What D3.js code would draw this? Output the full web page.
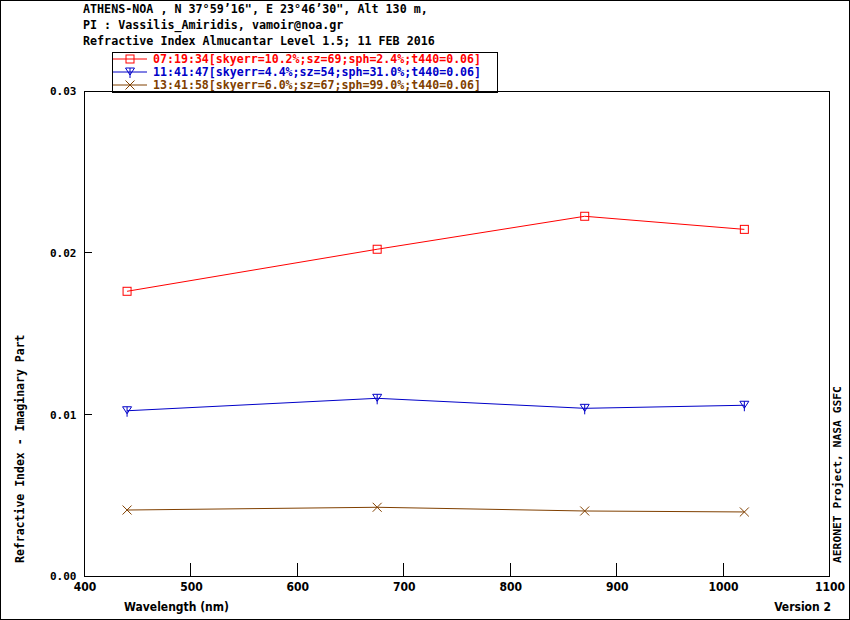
<!DOCTYPE html>
<html><head><meta charset="utf-8">
<script src="https://cdn.jsdelivr.net/npm/d3@7"></script>
<style>body{margin:0;background:#fff}svg{display:block}</style>
</head><body>
<script>
const wavelengths = [440, 675, 870, 1020];
const seriesNames = [
  "07:19:34[skyerr=10.2%;sz=69;sph=2.4%;t440=0.06]",
  "11:41:47[skyerr=4.4%;sz=54;sph=31.0%;t440=0.06]",
  "13:41:58[skyerr=6.0%;sz=67;sph=99.0%;t440=0.06]"
];
const series1 = [0.01763, 0.02023, 0.02227, 0.02146];
const series2 = [0.01024, 0.01101, 0.01039, 0.01058];
const series3 = [0.00410, 0.00427, 0.00404, 0.00398];
const seriesColors = ["#ff0000", "#0000c8", "#804000"];
const seriesSymbols = ["square", "triangle", "cross"];
const xTicks = [400, 500, 600, 700, 800, 900, 1000, 1100];
const yTicks = [0, 0.01, 0.02, 0.03];
const headerLines = [
  "ATHENS-NOA , N 37\u00b059\u201916\", E 23\u00b046\u201930\", Alt 130 m,",
  "PI : Vassilis_Amiridis, vamoir@noa.gr",
  "Refractive Index Almucantar Level 1.5; 11 FEB 2016"
];

const W = 850, H = 620;
const svg = d3.select("body").append("svg").attr("width", W).attr("height", H);
const mono = "'DejaVu Sans Mono', 'Liberation Mono', monospace";
const narrow = "'Liberation Sans Narrow', 'DejaVu Sans Condensed', 'Roboto', sans-serif";

svg.append("rect").attr("x", 0.5).attr("y", 0.5).attr("width", W - 1).attr("height", H - 1)
  .attr("fill", "#fff").attr("stroke", "#000");

const x = d3.scaleLinear().domain([400, 1100]).range([84.5, 829.5]);
const y = d3.scaleLinear().domain([0, 0.03]).range([576.3, 91.3]);

// header
svg.selectAll("text.hdr").data(headerLines).join("text").attr("class", "hdr")
  .attr("x", 83).attr("y", (d, i) => 13 + i * 16)
  .attr("font-family", mono).attr("font-weight", "bold").attr("font-size", 11.7)
  .attr("fill", "#000").text(d => d);

// plot frame
svg.append("rect").attr("x", x(400)).attr("y", y(0.03)).attr("width", x(1100) - x(400))
  .attr("height", y(0) - y(0.03)).attr("fill", "none").attr("stroke", "#000")
  .attr("shape-rendering", "crispEdges");

// x axis
const xAxis = d3.axisBottom(x).tickValues(xTicks).tickSize(0).tickPadding(6).tickFormat(d3.format("d"));
const gx = svg.append("g").attr("transform", `translate(0,${y(0)})`).call(xAxis);
gx.select(".domain").remove();
gx.selectAll("text").attr("font-family", narrow).attr("font-weight", "bold").attr("font-size", 12).attr("fill", "#000");
svg.selectAll("line.xt").data(xTicks.slice(1, -1)).join("line").attr("class", "xt")
  .attr("x1", d => x(d)).attr("x2", d => x(d)).attr("y1", y(0)).attr("y2", y(0) - 13)
  .attr("stroke", "#000").attr("shape-rendering", "crispEdges");

// y axis
const yAxis = d3.axisLeft(y).tickValues(yTicks).tickSize(0).tickPadding(8).tickFormat(d3.format(".2f"));
const gy = svg.append("g").attr("transform", `translate(${x(400)},0)`).call(yAxis);
gy.select(".domain").remove();
gy.selectAll("text").attr("font-family", mono).attr("font-weight", "bold").attr("font-size", 11).attr("fill", "#000");
svg.selectAll("line.yt").data(yTicks.slice(1, -1)).join("line").attr("class", "yt")
  .attr("x1", x(400)).attr("x2", x(400) + 7).attr("y1", d => y(d)).attr("y2", d => y(d))
  .attr("stroke", "#000").attr("shape-rendering", "crispEdges");

// axis titles
svg.append("text").attr("x", 124).attr("y", 611).attr("font-family", narrow).attr("font-weight", "bold")
  .attr("font-size", 12).text("Wavelength (nm)");
svg.append("text").attr("x", 831).attr("y", 611).attr("text-anchor", "end").attr("font-family", narrow)
  .attr("font-weight", "bold").attr("font-size", 12).text("Version 2");
svg.append("text").attr("transform", "translate(24,563) rotate(-90)").attr("font-family", mono)
  .attr("font-weight", "bold").attr("font-size", 11.5).text("Refractive Index - Imaginary Part");
svg.append("text").attr("transform", "translate(841,563) rotate(-90)").attr("font-family", mono)
  .attr("font-weight", "bold").attr("font-size", 11.3).text("AERONET Project, NASA GSFC");

function drawSymbol(g, type, cx, cy, color) {
  if (type === "square") {
    g.append("rect").attr("x", cx - 4).attr("y", cy - 4).attr("width", 8).attr("height", 8)
      .attr("fill", "none").attr("stroke", color);
  } else if (type === "triangle") {
    g.append("path").attr("d", `M${cx - 4.5},${cy - 4}L${cx + 4.5},${cy - 4}L${cx},${cy + 3}Z`)
      .attr("fill", "none").attr("stroke", color);
    g.append("line").attr("x1", cx).attr("x2", cx).attr("y1", cy - 4).attr("y2", cy + 6).attr("stroke", color);
  } else {
    g.append("path").attr("d", `M${cx - 4.5},${cy - 4.5}L${cx + 4.5},${cy + 4.5}M${cx - 4.5},${cy + 4.5}L${cx + 4.5},${cy - 4.5}`)
      .attr("fill", "none").attr("stroke", color);
  }
}

const allSeries = [series1, series2, series3];
const line = d3.line().x(d => x(d[0])).y(d => y(d[1]));
allSeries.forEach((vals, i) => {
  const pts = wavelengths.map((w, j) => [w, vals[j]]);
  const g = svg.append("g");
  g.append("path").attr("d", line(pts)).attr("fill", "none").attr("stroke", seriesColors[i]).attr("stroke-width", 1);
  pts.forEach(p => drawSymbol(g, seriesSymbols[i], x(p[0]), y(p[1]), seriesColors[i]));
});

// legend
const lg = svg.append("g");
lg.append("rect").attr("x", 112.5).attr("y", 52.5).attr("width", 385).attr("height", 40)
  .attr("fill", "#fff").attr("stroke", "#000");
seriesNames.forEach((name, i) => {
  const ly = 59 + i * 13;
  lg.append("line").attr("x1", 113).attr("x2", 147).attr("y1", ly).attr("y2", ly).attr("stroke", seriesColors[i]);
  drawSymbol(lg, seriesSymbols[i], 130, ly, seriesColors[i]);
  lg.append("text").attr("x", 153).attr("y", ly + 4).attr("font-family", mono).attr("font-weight", "bold")
    .attr("font-size", 11.6).attr("fill", seriesColors[i]).text(name);
});
// redraw top frame line over legend bottom
svg.append("line").attr("x1", x(400)).attr("x2", x(1100)).attr("y1", y(0.03)).attr("y2", y(0.03))
  .attr("stroke", "#000").attr("shape-rendering", "crispEdges");
</script>
</body></html>
